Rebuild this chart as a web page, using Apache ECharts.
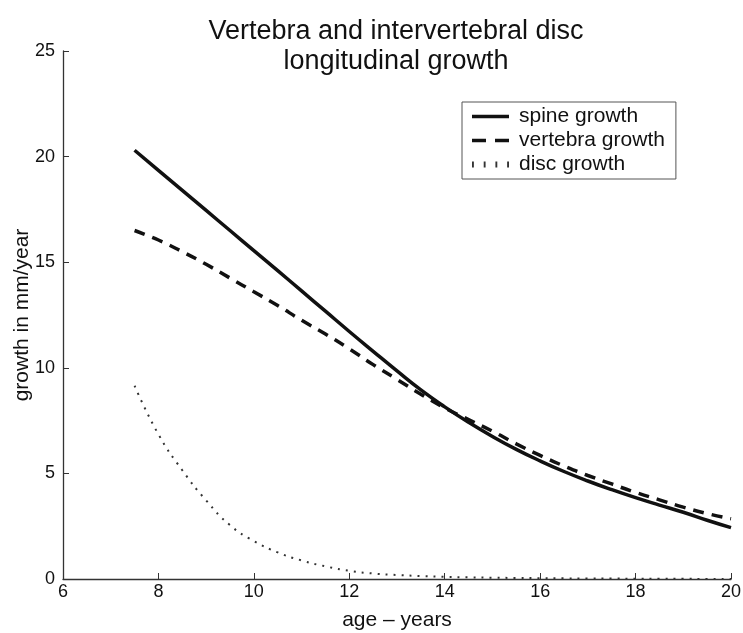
<!DOCTYPE html>
<html>
<head>
<meta charset="utf-8">
<script src="https://cdn.jsdelivr.net/npm/echarts@6/dist/echarts.min.js"></script>
<style>
html,body{margin:0;padding:0;background:#fff;}
#chart{width:743px;height:633px;}
</style>
</head>
<body>
<div id="chart"></div>
<script>
const ages = [7.5,8,8.5,9,9.5,10,10.5,11,11.5,12,12.5,13,13.5,14,14.5,15,15.5,16,16.5,17,17.5,18,18.5,19,19.5,20];
const spineGrowth = [20.3,19.35,18.4,17.45,16.5,15.55,14.6,13.64,12.68,11.72,10.78,9.85,8.95,8.15,7.42,6.75,6.14,5.59,5.09,4.64,4.23,3.85,3.5,3.16,2.78,2.43];
const vertebraGrowth = [16.5,16.05,15.5,14.9,14.25,13.6,12.95,12.25,11.6,10.9,10.15,9.45,8.75,8.1,7.55,7.0,6.4,5.85,5.35,4.9,4.5,4.1,3.75,3.4,3.1,2.85];
const discGrowth = [9.15,6.85,5.15,3.72,2.55,1.8,1.26,0.88,0.6,0.39,0.26,0.19,0.14,0.1,0.08,0.06,0.05,0.04,0.03,0.02,0.02,0.01,0.01,0.01,0,0];
const seriesNames = ['spine growth','vertebra growth','disc growth'];
const titleText = 'Vertebra and intervertebral disc\nlongitudinal growth';

const font = 'Liberation Sans, Arial, sans-serif';
const pair = (ys) => ages.map((a, i) => [a, ys[i]]);
const legendIcons = [
  'path://M0,0H37V3.5H0Z',
  'path://M0,0H14V3.5H0Z M23,0H37V3.5H23Z',
  'path://M0,0H1.6V5H0Z M10,0H11.6V5H10Z M20,0H21.6V5H20Z M30,0H31.6V5H30Z'
];

const chart = echarts.init(document.getElementById('chart'));
chart.setOption({
  animation: false,
  backgroundColor: '#fff',
  title: {
    text: titleText,
    left: 391, top: 12, textAlign: 'center',
    textStyle: {fontFamily: font, fontSize: 27, fontWeight: 'normal', color: '#111', lineHeight: 30}
  },
  legend: {
    orient: 'vertical', left: 462, top: 102,
    padding: [4, 11, 4, 10],
    borderColor: '#555', borderWidth: 1,
    itemWidth: 37, itemHeight: 14, itemGap: 3,
    textStyle: {fontFamily: font, fontSize: 21, color: '#111', padding: [0, 0, 0, 5]},
    data: seriesNames.map((n, i) => ({name: n, icon: legendIcons[i]}))
  },
  grid: {left: 63, right: 12, top: 51, bottom: 54, containLabel: false, outerBoundsMode: 'none'},
  xAxis: {
    type: 'value', min: 6, max: 20, interval: 2,
    name: 'age – years', nameLocation: 'middle', nameGap: 31, nameMoveOverlap: false,
    nameTextStyle: {fontFamily: font, fontSize: 21, color: '#111'},
    axisLine: {show: true, lineStyle: {color: '#333', width: 1.3}},
    axisTick: {show: true, inside: true, length: 6, lineStyle: {color: '#333'}},
    axisLabel: {fontFamily: font, fontSize: 18, color: '#111', margin: 4},
    splitLine: {show: false}
  },
  yAxis: {
    type: 'value', min: 0, max: 25, interval: 5,
    name: 'growth in mm/year', nameLocation: 'middle', nameGap: 30, nameMoveOverlap: false,
    nameTextStyle: {fontFamily: font, fontSize: 21, color: '#111'},
    axisLine: {show: true, lineStyle: {color: '#333', width: 1.3}},
    axisTick: {show: true, inside: true, length: 6, lineStyle: {color: '#333'}},
    axisLabel: {fontFamily: font, fontSize: 18, color: '#111', margin: 8},
    splitLine: {show: false}
  },
  series: [
    {name: seriesNames[0], type: 'line', smooth: true, symbol: 'none', data: pair(spineGrowth),
     lineStyle: {color: '#111', width: 3.5, type: 'solid'}, itemStyle: {color: '#111'}},
    {name: seriesNames[1], type: 'line', smooth: true, symbol: 'none', data: pair(vertebraGrowth),
     lineStyle: {color: '#111', width: 3.5, type: [11, 8]}, itemStyle: {color: '#111'}},
    {name: seriesNames[2], type: 'line', smooth: true, symbol: 'none', data: pair(discGrowth),
     lineStyle: {color: '#333', width: 2, type: [2, 6]}, itemStyle: {color: '#333'}}
  ]
});
</script>
</body>
</html>
